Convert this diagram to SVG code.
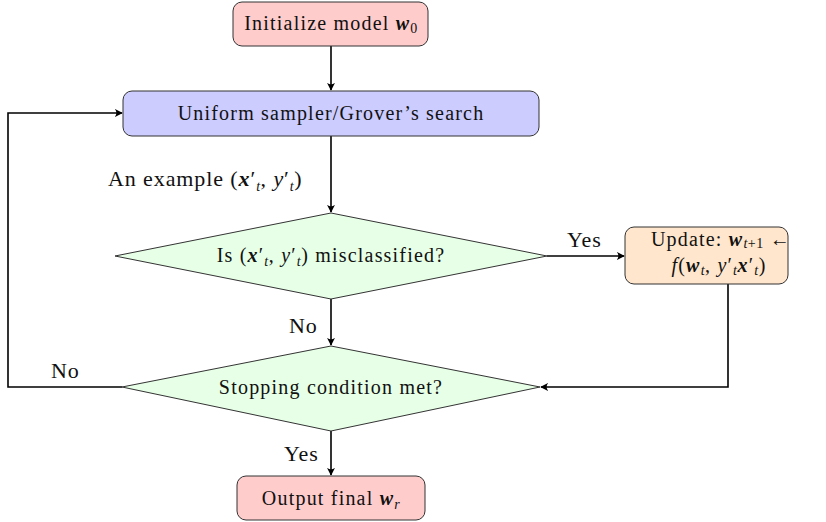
<svg xmlns="http://www.w3.org/2000/svg" width="826" height="522" viewBox="0 0 826 522">
<style>
.box{stroke:#333;stroke-width:1}
.node{font-family:"Liberation Serif","DejaVu Serif",serif;font-size:20px;letter-spacing:1.2px;fill:#111;text-anchor:middle}
.lbl{font-family:"Liberation Serif","DejaVu Serif",serif;font-size:22px;letter-spacing:0.9px;fill:#111}
.c{fill:none;stroke:#000;stroke-width:1.6}
.m{font-style:italic;font-weight:bold}
.i{font-style:italic}
.s{font-size:14px;letter-spacing:0.5px}
</style>
<defs>
<marker id="ar" viewBox="0 0 10 10" refX="9" refY="5" markerWidth="8" markerHeight="8" markerUnits="userSpaceOnUse" orient="auto">
<path d="M0,0 Q4,5 0,10 L10,5 Z" fill="#000"/>
</marker>
</defs>
<rect width="826" height="522" fill="#fff"/>
<g id="connectors">
<path class="c" d="M331,46 V90" marker-end="url(#ar)"/>
<path class="c" d="M331,136 V212" marker-end="url(#ar)"/>
<path class="c" d="M547,256 H624" marker-end="url(#ar)"/>
<path class="c" d="M331,299 V345" marker-end="url(#ar)"/>
<path class="c" d="M728,284 V387 H541" marker-end="url(#ar)"/>
<path class="c" d="M122,387 H8 V113 H122" marker-end="url(#ar)"/>
<path class="c" d="M331,431 V475" marker-end="url(#ar)"/>
<text class="lbl" x="108" y="186">An example (<tspan class="m">x</tspan>′<tspan class="i s" dy="5">t</tspan><tspan dy="-5">, </tspan><tspan class="i">y</tspan>′<tspan class="i s" dy="5">t</tspan><tspan dy="-5">)</tspan></text>
<text class="lbl" x="567" y="247">Yes</text>
<text class="lbl" x="289" y="333">No</text>
<text class="lbl" x="51" y="378">No</text>
<text class="lbl" x="284" y="461">Yes</text>
</g>
<g id="init">
<rect class="box" x="233" y="2" width="195" height="44" rx="9" fill="#ffcccc"/>
<text class="node" x="331" y="30">Initialize model <tspan class="m">w</tspan><tspan class="s" dy="3">0</tspan></text>
</g>
<g id="sampler">
<rect class="box" x="123" y="91" width="416" height="45" rx="9" fill="#ccccff"/>
<text class="node" x="331" y="120">Uniform sampler/Grover’s search</text>
</g>
<g id="misclassified">
<polygon class="box" points="331,213 547,256 331,299 115,256" fill="#e6ffe6"/>
<text class="node" x="331" y="262">Is (<tspan class="m">x</tspan>′<tspan class="i s" dy="4">t</tspan><tspan dy="-4">, </tspan><tspan class="i">y</tspan>′<tspan class="i s" dy="4">t</tspan><tspan dy="-4">) misclassified?</tspan></text>
</g>
<g id="update">
<rect class="box" x="625" y="227" width="163" height="57" rx="9" fill="#ffe6cc"/>
<text class="node" x="721" y="246">Update: <tspan class="m">w</tspan><tspan class="i s" dy="2">t</tspan><tspan class="s">+1</tspan><tspan dy="-2"> ←</tspan></text>
<text class="node" x="719" y="272"><tspan class="i">f</tspan>(<tspan class="m">w</tspan><tspan class="i s" dy="3">t</tspan><tspan dy="-3">,  </tspan><tspan class="i">y</tspan>′<tspan class="i s" dy="3">t</tspan><tspan class="m" dy="-3">x</tspan>′<tspan class="i s" dy="3">t</tspan><tspan dy="-3">)</tspan></text>
</g>
<g id="stopping">
<polygon class="box" points="331,346 540,387 331,431 122,387" fill="#e6ffe6"/>
<text class="node" x="331" y="394">Stopping condition met?</text>
</g>
<g id="output">
<rect class="box" x="237" y="476" width="188" height="44" rx="9" fill="#ffcccc"/>
<text class="node" x="331" y="505">Output final <tspan class="m">w</tspan><tspan class="i s" dy="4">r</tspan></text>
</g>
</svg>
